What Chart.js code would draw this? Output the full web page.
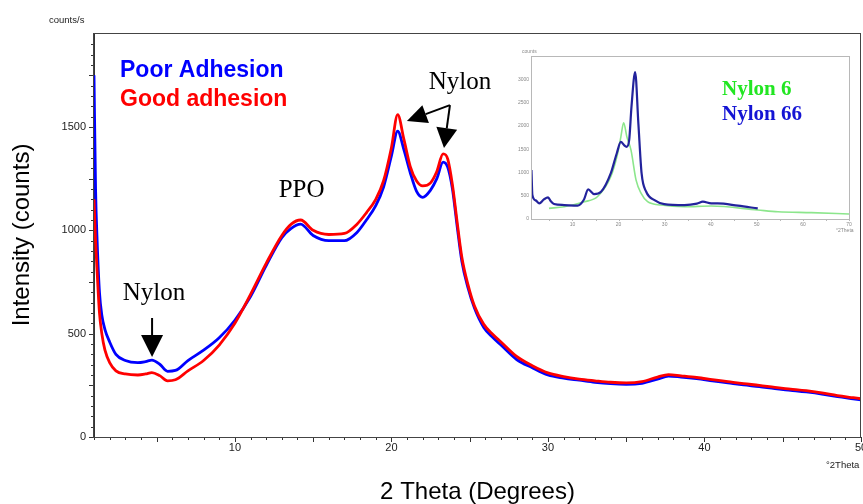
<!DOCTYPE html>
<html>
<head>
<meta charset="utf-8">
<script src="https://cdn.jsdelivr.net/npm/chart.js@4.4.1/dist/chart.umd.min.js"></script>
<style>
  html, body { margin: 0; padding: 0; background: #fff; }
  #wrap { position: relative; width: 863px; height: 504px; }
  #main { position: absolute; left: 0; top: 0; }
  #inset { position: absolute; left: 518px; top: 40px; filter: blur(0.45px); }
</style>
</head>
<body>
<div id="wrap">
  <canvas id="main" width="863" height="504"></canvas>
  <canvas id="inset" width="342" height="196"></canvas>
</div>
<script>
// ===== main pattern: 2 theta (deg) vs counts =====
const twoTheta = [1.0, 1.1, 1.2, 1.35, 1.5, 1.7, 2.0, 2.4, 3.0, 3.8,
  4.3, 4.7, 5.2, 5.7, 6.2, 7, 8, 9, 10, 11,
  12, 13, 13.6, 14.2, 15, 16, 17, 17.8, 18.4, 19,
  19.5, 20, 20.4, 20.8, 21.2, 21.6, 22, 22.5, 22.9, 23.3,
  23.6, 23.9, 24.2, 24.5, 24.9, 25.3, 25.9, 26.5, 27, 28,
  29, 30, 31, 32, 33, 34, 35, 36, 37, 37.7,
  38.5, 39.5, 40.5, 41.5, 42.5, 43.5, 44.5, 45.5, 46.5, 47.5,
  48.5, 49.5, 50];

const poorAdhesion = [1750, 1200, 950, 700, 590, 520, 460, 400, 370, 360,
  365, 372, 352, 318, 322, 370, 420, 480, 565, 680,
  830, 965, 1010, 1030, 975, 950, 950, 990, 1050, 1120,
  1210, 1360, 1480, 1390, 1280, 1190, 1160, 1195, 1250, 1330,
  1305, 1200, 1020, 850, 720, 625, 530, 480, 445, 375,
  335, 300, 285, 275, 265, 258, 255, 260, 280, 295,
  290, 282, 272, 262, 252, 244, 234, 226, 218, 208,
  195, 185, 180];

const goodAdhesion = [1150, 950, 800, 600, 500, 420, 360, 320, 305, 300,
  305, 312, 297, 272, 277, 320, 370, 445, 550, 690,
  840, 975, 1030, 1050, 1000, 980, 985, 1030, 1085, 1150,
  1240, 1400, 1560, 1440, 1310, 1240, 1215, 1230, 1285, 1370,
  1345, 1220, 1040, 870, 735, 635, 545, 495, 460, 390,
  345, 310, 292, 280, 272, 265, 262, 268, 290, 302,
  296, 288, 278, 268, 258, 250, 240, 232, 224, 213,
  200, 190, 185];

// ===== inset: reference nylons =====
const nylon66Theta = [1.1, 1.3, 2.0, 2.8, 3.8, 4.7, 5.3, 6.0, 8.2, 11.1,
  12.5, 13.4, 14.7, 16.2, 18.3, 19.6, 20.5, 21.2, 21.75, 22.3,
  22.8, 23.6, 24.3, 25.0, 26.0, 27.8, 29.9, 34.3, 37.0, 38.3,
  40.1, 41.5, 45.9, 50.2];
const nylon66Counts = [1050, 514, 400, 336, 420, 464, 380, 321, 300, 286,
  420, 635, 536, 585, 978, 1407, 1656, 1585, 1550, 1692,
  2406, 3156, 2049, 978, 585, 407, 321, 300, 330, 371,
  336, 336, 286, 228];

const nylon6Theta = [4.9, 8.2, 12.6, 15.4, 18.3, 19.8, 20.5, 21.1, 21.8, 22.7,
  23.8, 24.9, 26.3, 29.2, 34.3, 40.1, 50.2, 54.6, 61.8, 70];
const nylon6Counts = [228, 264, 371, 478, 907, 1407, 1764, 2063, 1764, 1478,
  835, 550, 371, 300, 264, 278, 193, 157, 136, 107];

const SANS = "'Liberation Sans', Arial, sans-serif";
const SERIF = "'Liberation Serif', 'Times New Roman', serif";

Chart.defaults.font.family = SANS;
Chart.defaults.color = "#222";

const pairs = (xs, ys) => xs.map((x, i) => ({ x, y: ys[i] }));

function arrow(ctx, x0, y0, x1, y1, headLen, headW) {
  const a = Math.atan2(y1 - y0, x1 - x0);
  const bx = x1 - headLen * Math.cos(a);
  const by = y1 - headLen * Math.sin(a);
  ctx.beginPath();
  ctx.moveTo(x0, y0);
  ctx.lineTo(bx, by);
  ctx.stroke();
  ctx.beginPath();
  ctx.moveTo(x1, y1);
  ctx.lineTo(bx + headW / 2 * Math.sin(a), by - headW / 2 * Math.cos(a));
  ctx.lineTo(bx - headW / 2 * Math.sin(a), by + headW / 2 * Math.cos(a));
  ctx.closePath();
  ctx.fill();
}

// tick marks + frame (main)
const mainTicks = {
  id: "mainTicks",
  afterDraw(chart) {
    const { ctx, chartArea: a, scales: { x, y } } = chart;
    ctx.save();
    ctx.strokeStyle = "#333";
    ctx.lineWidth = 1;
    ctx.beginPath();
    x.ticks.forEach(t => {
      const px = Math.round(x.getPixelForValue(t.value)) + 0.5;
      const len = t.value % 5 === 0 ? 5 : 3;
      ctx.moveTo(px, a.bottom);
      ctx.lineTo(px, a.bottom + len);
    });
    y.ticks.forEach(t => {
      if (t.value % 50 !== 0) return;
      const py = Math.round(y.getPixelForValue(t.value)) + 0.5;
      const len = t.value % 250 === 0 ? 5 : 3;
      ctx.moveTo(a.left - len, py);
      ctx.lineTo(a.left, py);
    });
    ctx.stroke();
    ctx.strokeStyle = "#444";
    ctx.strokeRect(a.left - 0.5, a.top + 0.5, a.right - a.left, a.bottom - a.top);
    ctx.restore();
  }
};

// labels, legend, arrows (main)
const mainNotes = {
  id: "mainNotes",
  afterDraw(chart) {
    const { ctx, scales: { x, y } } = chart;
    ctx.save();
    ctx.textBaseline = "alphabetic";

    ctx.font = "bold 23px " + SANS;
    ctx.fillStyle = "#0000ff";
    ctx.fillText("Poor Adhesion", 120, 77);
    ctx.fillStyle = "#ff0000";
    ctx.fillText("Good adhesion", 120, 106);

    ctx.font = "9.5px " + SANS;
    ctx.fillStyle = "#222";
    ctx.fillText("counts/s", 49, 23);
    ctx.fillText("\u00b02Theta", 826, 468);

    ctx.fillStyle = "#000";
    ctx.strokeStyle = "#000";
    ctx.font = "25px " + SERIF;
    ctx.textAlign = "center";
    ctx.fillText("Nylon", x.getPixelForValue(4.83), y.getPixelForValue(663));
    ctx.fillText("PPO", x.getPixelForValue(14.26), y.getPixelForValue(1161));
    ctx.fillText("Nylon", x.getPixelForValue(24.38), y.getPixelForValue(1686));

    ctx.lineWidth = 2;
    arrow(ctx, x.getPixelForValue(4.71), y.getPixelForValue(576),
      x.getPixelForValue(4.71), y.getPixelForValue(387), 22, 22);
    arrow(ctx, x.getPixelForValue(23.74), y.getPixelForValue(1606),
      x.getPixelForValue(20.99), y.getPixelForValue(1529), 20, 19);
    arrow(ctx, x.getPixelForValue(23.74), y.getPixelForValue(1606),
      x.getPixelForValue(23.36), y.getPixelForValue(1398), 20, 21);
    ctx.restore();
  }
};

new Chart(document.getElementById("main"), {
  type: "line",
  data: {
    datasets: [
      { label: "Good adhesion", data: pairs(twoTheta, goodAdhesion), borderColor: "#ff0000" },
      { label: "Poor Adhesion", data: pairs(twoTheta, poorAdhesion), borderColor: "#0000ff" }
    ]
  },
  options: {
    responsive: false,
    animation: false,
    layout: { padding: { left: 0, right: 2, top: 33, bottom: 0 } },
    elements: {
      point: { radius: 0 },
      line: { borderWidth: 2.8, cubicInterpolationMode: "monotone" }
    },
    plugins: { legend: { display: false }, tooltip: { enabled: false } },
    scales: {
      x: {
        type: "linear",
        min: 1,
        max: 50,
        grid: { display: false, drawTicks: false },
        border: { display: true, color: "#333" },
        ticks: {
          stepSize: 1,
          autoSkip: false,
          maxRotation: 0,
          padding: 4,
          font: { size: 11 },
          callback: v => (v % 10 === 0 ? v : "")
        },
        title: {
          display: true,
          text: "2 Theta (Degrees)",
          color: "#000",
          font: { size: 24, lineHeight: 1 },
          padding: { top: 0, bottom: 0 }
        },
        afterFit: s => { s.height = 67; s.paddingLeft = 0; s.paddingRight = 0; }
      },
      y: {
        min: 0,
        max: 1955,
        grid: { display: false, drawTicks: false },
        border: { display: true, color: "#333" },
        ticks: {
          stepSize: 50,
          autoSkip: false,
          padding: 8,
          font: { size: 11 },
          callback: v => (v % 500 === 0 ? v : "")
        },
        title: {
          display: true,
          text: "Intensity (counts)",
          color: "#000",
          font: { size: 24, lineHeight: 1 },
          padding: { top: 10, bottom: 0 }
        },
        afterFit: s => { s.width = 94; s.paddingTop = 0; s.paddingBottom = 0; }
      }
    }
  },
  plugins: [mainTicks, mainNotes]
});

// ===== inset chart =====
const insetDecor = {
  id: "insetDecor",
  afterDraw(chart) {
    const { ctx, chartArea: a, scales: { x } } = chart;
    ctx.save();
    ctx.strokeStyle = "#b8b8b8";
    ctx.lineWidth = 1;
    ctx.strokeRect(a.left + 0.5, a.top + 0.5, a.right - a.left, a.bottom - a.top);
    ctx.beginPath();
    for (let v = 5; v <= 70; v += 5) {
      const px = Math.round(x.getPixelForValue(v)) + 0.5;
      ctx.moveTo(px, a.bottom);
      ctx.lineTo(px, a.bottom + 2);
    }
    ctx.stroke();
    ctx.font = "5px " + SANS;
    ctx.fillStyle = "#888";
    ctx.fillText("counts", 4, 13);
    ctx.fillText("\u00b02Theta", 318, 192);

    ctx.font = "bold 21px " + SERIF;
    ctx.fillStyle = "#22e622";
    ctx.fillText("Nylon 6", 204, 55);
    ctx.fillStyle = "#1414d4";
    ctx.fillText("Nylon 66", 204, 80);
    ctx.restore();
  }
};

new Chart(document.getElementById("inset"), {
  type: "line",
  data: {
    datasets: [
      { label: "Nylon 66", data: pairs(nylon66Theta, nylon66Counts), borderColor: "#23239c", borderWidth: 2.2 },
      { label: "Nylon 6", data: pairs(nylon6Theta, nylon6Counts), borderColor: "#8ce68c", borderWidth: 1.6 }
    ]
  },
  options: {
    responsive: false,
    animation: false,
    layout: { padding: { left: 0, right: 11, top: 16, bottom: 0 } },
    elements: {
      point: { radius: 0 },
      line: { cubicInterpolationMode: "monotone" }
    },
    plugins: { legend: { display: false }, tooltip: { enabled: false } },
    scales: {
      x: {
        type: "linear",
        min: 1,
        max: 70,
        grid: { display: false, drawTicks: false },
        border: { display: true, color: "#aaa" },
        ticks: {
          stepSize: 10,
          autoSkip: false,
          maxRotation: 0,
          padding: 3,
          color: "#888",
          font: { size: 5 },
          callback: v => (v % 10 === 0 ? v : "")
        },
        afterFit: s => { s.height = 17; s.paddingLeft = 0; s.paddingRight = 0; }
      },
      y: {
        min: 0,
        max: 3500,
        grid: { display: false, drawTicks: false },
        border: { display: true, color: "#aaa" },
        ticks: {
          stepSize: 500,
          autoSkip: false,
          padding: 2,
          color: "#888",
          font: { size: 5 },
          callback: v => (v < 3500 ? v : "")
        },
        afterFit: s => { s.width = 13; s.paddingTop = 0; s.paddingBottom = 0; }
      }
    }
  },
  plugins: [insetDecor]
});
</script>
</body>
</html>
